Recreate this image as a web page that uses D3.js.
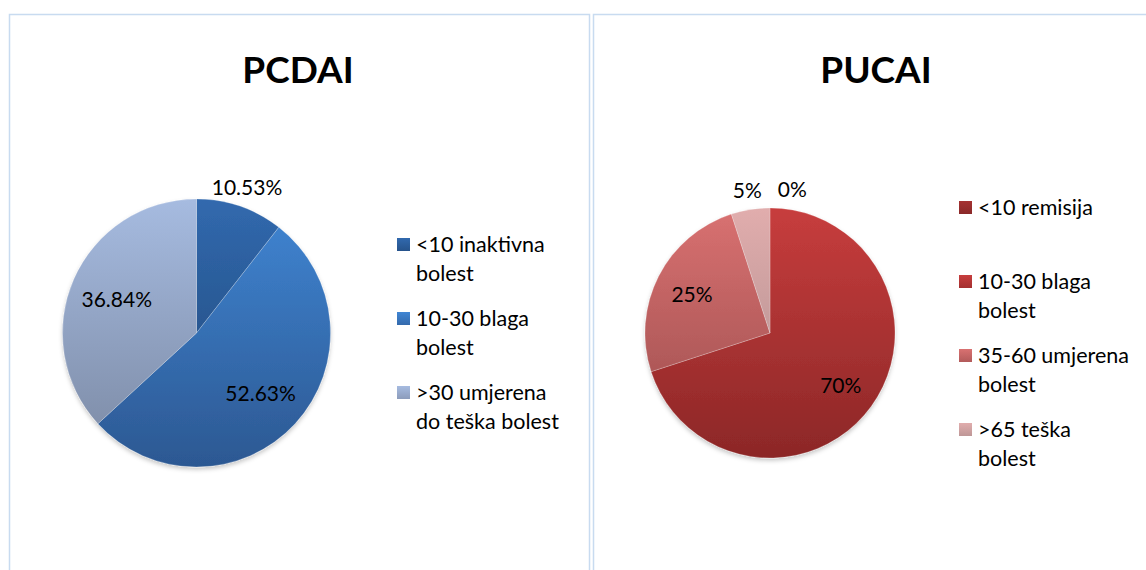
<!DOCTYPE html>
<html>
<head>
<meta charset="utf-8">
<script src="https://cdn.jsdelivr.net/npm/d3@7/dist/d3.min.js"></script>
<style>
  html, body { margin: 0; padding: 0; background: #fff; }
  svg { display: block; }
  text { font-family: Lato, "Noto Sans", sans-serif; fill: #000; }
</style>
</head>
<body>
<svg id="chart" width="1146" height="570"></svg>
<script>
// ---------- data ----------
const pcdaiTitle = "PCDAI";
const pcdaiCategories = ["<10 inaktivna\nbolest", "10-30 blaga\nbolest", ">30 umjerena\ndo teška bolest"];
const pcdaiValues = [10.53, 52.63, 36.84];

const pucaiTitle = "PUCAI";
const pucaiCategories = ["<10 remisija", "10-30 blaga\nbolest", "35-60 umjerena\nbolest", ">65 teška\nbolest"];
const pucaiValues = [0, 70, 25, 5];

// ---------- styles ----------
const pcdaiColorsTop = ["#3169ae", "#4086d4", "#a6bbe0"];
const pcdaiColorsBottom = ["#1f4574", "#2c5892", "#7a88a2"];
const pucaiColorsTop = ["#a53232", "#c73d3d", "#d97171", "#e1adad"];
const pucaiColorsBottom = ["#782323", "#8c2727", "#984b4b", "#a68888"];

const svg = d3.select("#chart");
svg.append("rect").attr("width", 1146).attr("height", 570).attr("fill", "#fff");
const defs = svg.append("defs");

const shadow = defs.append("filter").attr("id", "shadow")
  .attr("x", "-10%").attr("y", "-10%").attr("width", "120%").attr("height", "125%");
shadow.append("feDropShadow").attr("dx", 0).attr("dy", 2.5).attr("stdDeviation", 2)
  .attr("flood-color", "#000").attr("flood-opacity", 0.22);

function drawPanel(cfg) {
  // panel border
  svg.append("rect")
    .attr("x", cfg.px + 0.5).attr("y", cfg.py + 0.5)
    .attr("width", cfg.pw).attr("height", 700)
    .attr("fill", "none").attr("stroke", "#c8dbf0").attr("stroke-width", 1.5);

  // title
  svg.append("text")
    .attr("x", cfg.titleX).attr("y", cfg.titleY)
    .attr("text-anchor", "middle")
    .attr("font-size", 37).attr("font-weight", "bold")
    .text(cfg.title);

  // gradients (in the pie group's local coordinates)
  cfg.values.forEach((v, i) => {
    const g = defs.append("linearGradient").attr("id", cfg.id + "-g" + i)
      .attr("gradientUnits", "userSpaceOnUse")
      .attr("x1", 0).attr("x2", 0).attr("y1", -cfg.r).attr("y2", cfg.r);
    g.append("stop").attr("offset", "0%").attr("stop-color", cfg.top[i]);
    g.append("stop").attr("offset", "100%").attr("stop-color", cfg.bottom[i]);
    const gl = defs.append("linearGradient").attr("id", cfg.id + "-l" + i)
      .attr("x1", 0).attr("x2", 0).attr("y1", 0).attr("y2", 1);
    gl.append("stop").attr("offset", "0%").attr("stop-color", cfg.top[i]);
    gl.append("stop").attr("offset", "100%").attr("stop-color", d3.interpolateRgb(cfg.top[i], cfg.bottom[i])(0.6));
  });

  const pie = d3.pie().sort(null).value(d => d);
  const arcs = pie(cfg.values);
  const total = d3.sum(cfg.values);
  const arc = d3.arc().innerRadius(0).outerRadius(cfg.r);

  const g = svg.append("g").attr("transform", `translate(${cfg.cx},${cfg.cy})`);
  g.append("g").attr("filter", "url(#shadow)")
    .selectAll("path").data(arcs).join("path")
    .attr("d", arc)
    .attr("fill", (d, i) => `url(#${cfg.id}-g${i})`)
    .attr("stroke", d => d.value > 0 ? "rgba(255,255,255,0.3)" : "none")
    .attr("stroke-width", 0.75);

  // data labels
  const inArc = d3.arc().innerRadius(cfg.r * cfg.inFactor).outerRadius(cfg.r * cfg.inFactor);
  const outArc = d3.arc().innerRadius(cfg.r * 1.16).outerRadius(cfg.r * 1.16);
  const labels = arcs.map((d, i) => {
    const outside = d.value / total < 0.15;
    const c = outside ? outArc.centroid(d) : inArc.centroid(d);
    return { d, i, outside, x: c[0], y: c[1], text: cfg.fmt(d.value) };
  });
  const lt = g.selectAll("text.lbl").data(labels).join("text")
    .attr("class", "lbl")
    .attr("font-size", 21)
    .attr("text-anchor", "middle")
    .attr("dominant-baseline", "central")
    .text(d => d.text);
  lt.each(function (d) { d.w = this.getComputedTextLength(); });
  // simple collision avoidance for outside labels: push the right-hand one to the right
  const outs = labels.filter(l => l.outside).sort((a, b) => a.x - b.x);
  for (let k = 1; k < outs.length; k++) {
    const a = outs[k - 1], b = outs[k];
    const minGap = (a.w + b.w) / 2 + 16;
    if (Math.abs(a.y - b.y) < 20 && b.x - a.x < minGap) b.x = a.x + minGap;
  }
  lt.attr("x", d => d.x).attr("y", d => d.y);

  // legend
  const lg = svg.append("g");
  cfg.categories.forEach((c, i) => {
    const base = cfg.legY + i * cfg.legStep;
    lg.append("rect")
      .attr("x", cfg.legX).attr("y", base - 14)
      .attr("width", 13).attr("height", 13)
      .attr("fill", `url(#${cfg.id}-l${i})`);
    const t = lg.append("text")
      .attr("x", cfg.legX + 19).attr("y", base)
      .attr("font-size", 21.5);
    c.split("\n").forEach((line, j) => {
      t.append("tspan").attr("x", cfg.legX + 19).attr("y", base + j * 28.5).text(line);
    });
  });
}

drawPanel({
  id: "pcdai", title: pcdaiTitle, categories: pcdaiCategories, values: pcdaiValues,
  top: pcdaiColorsTop, bottom: pcdaiColorsBottom,
  px: 9, py: 14, pw: 580, titleX: 298, titleY: 83,
  cx: 196.5, cy: 333, r: 134, inFactor: 0.65,
  fmt: v => d3.format(".2f")(v) + "%",
  legX: 397, legY: 252, legStep: 74
});

drawPanel({
  id: "pucai", title: pucaiTitle, categories: pucaiCategories, values: pucaiValues,
  top: pucaiColorsTop, bottom: pucaiColorsBottom,
  px: 593, py: 14, pw: 700, titleX: 876, titleY: 83,
  cx: 770, cy: 333, r: 125, inFactor: 0.7,
  fmt: v => d3.format("d")(v) + "%",
  legX: 959, legY: 215, legStep: 74
});
</script>
</body>
</html>
